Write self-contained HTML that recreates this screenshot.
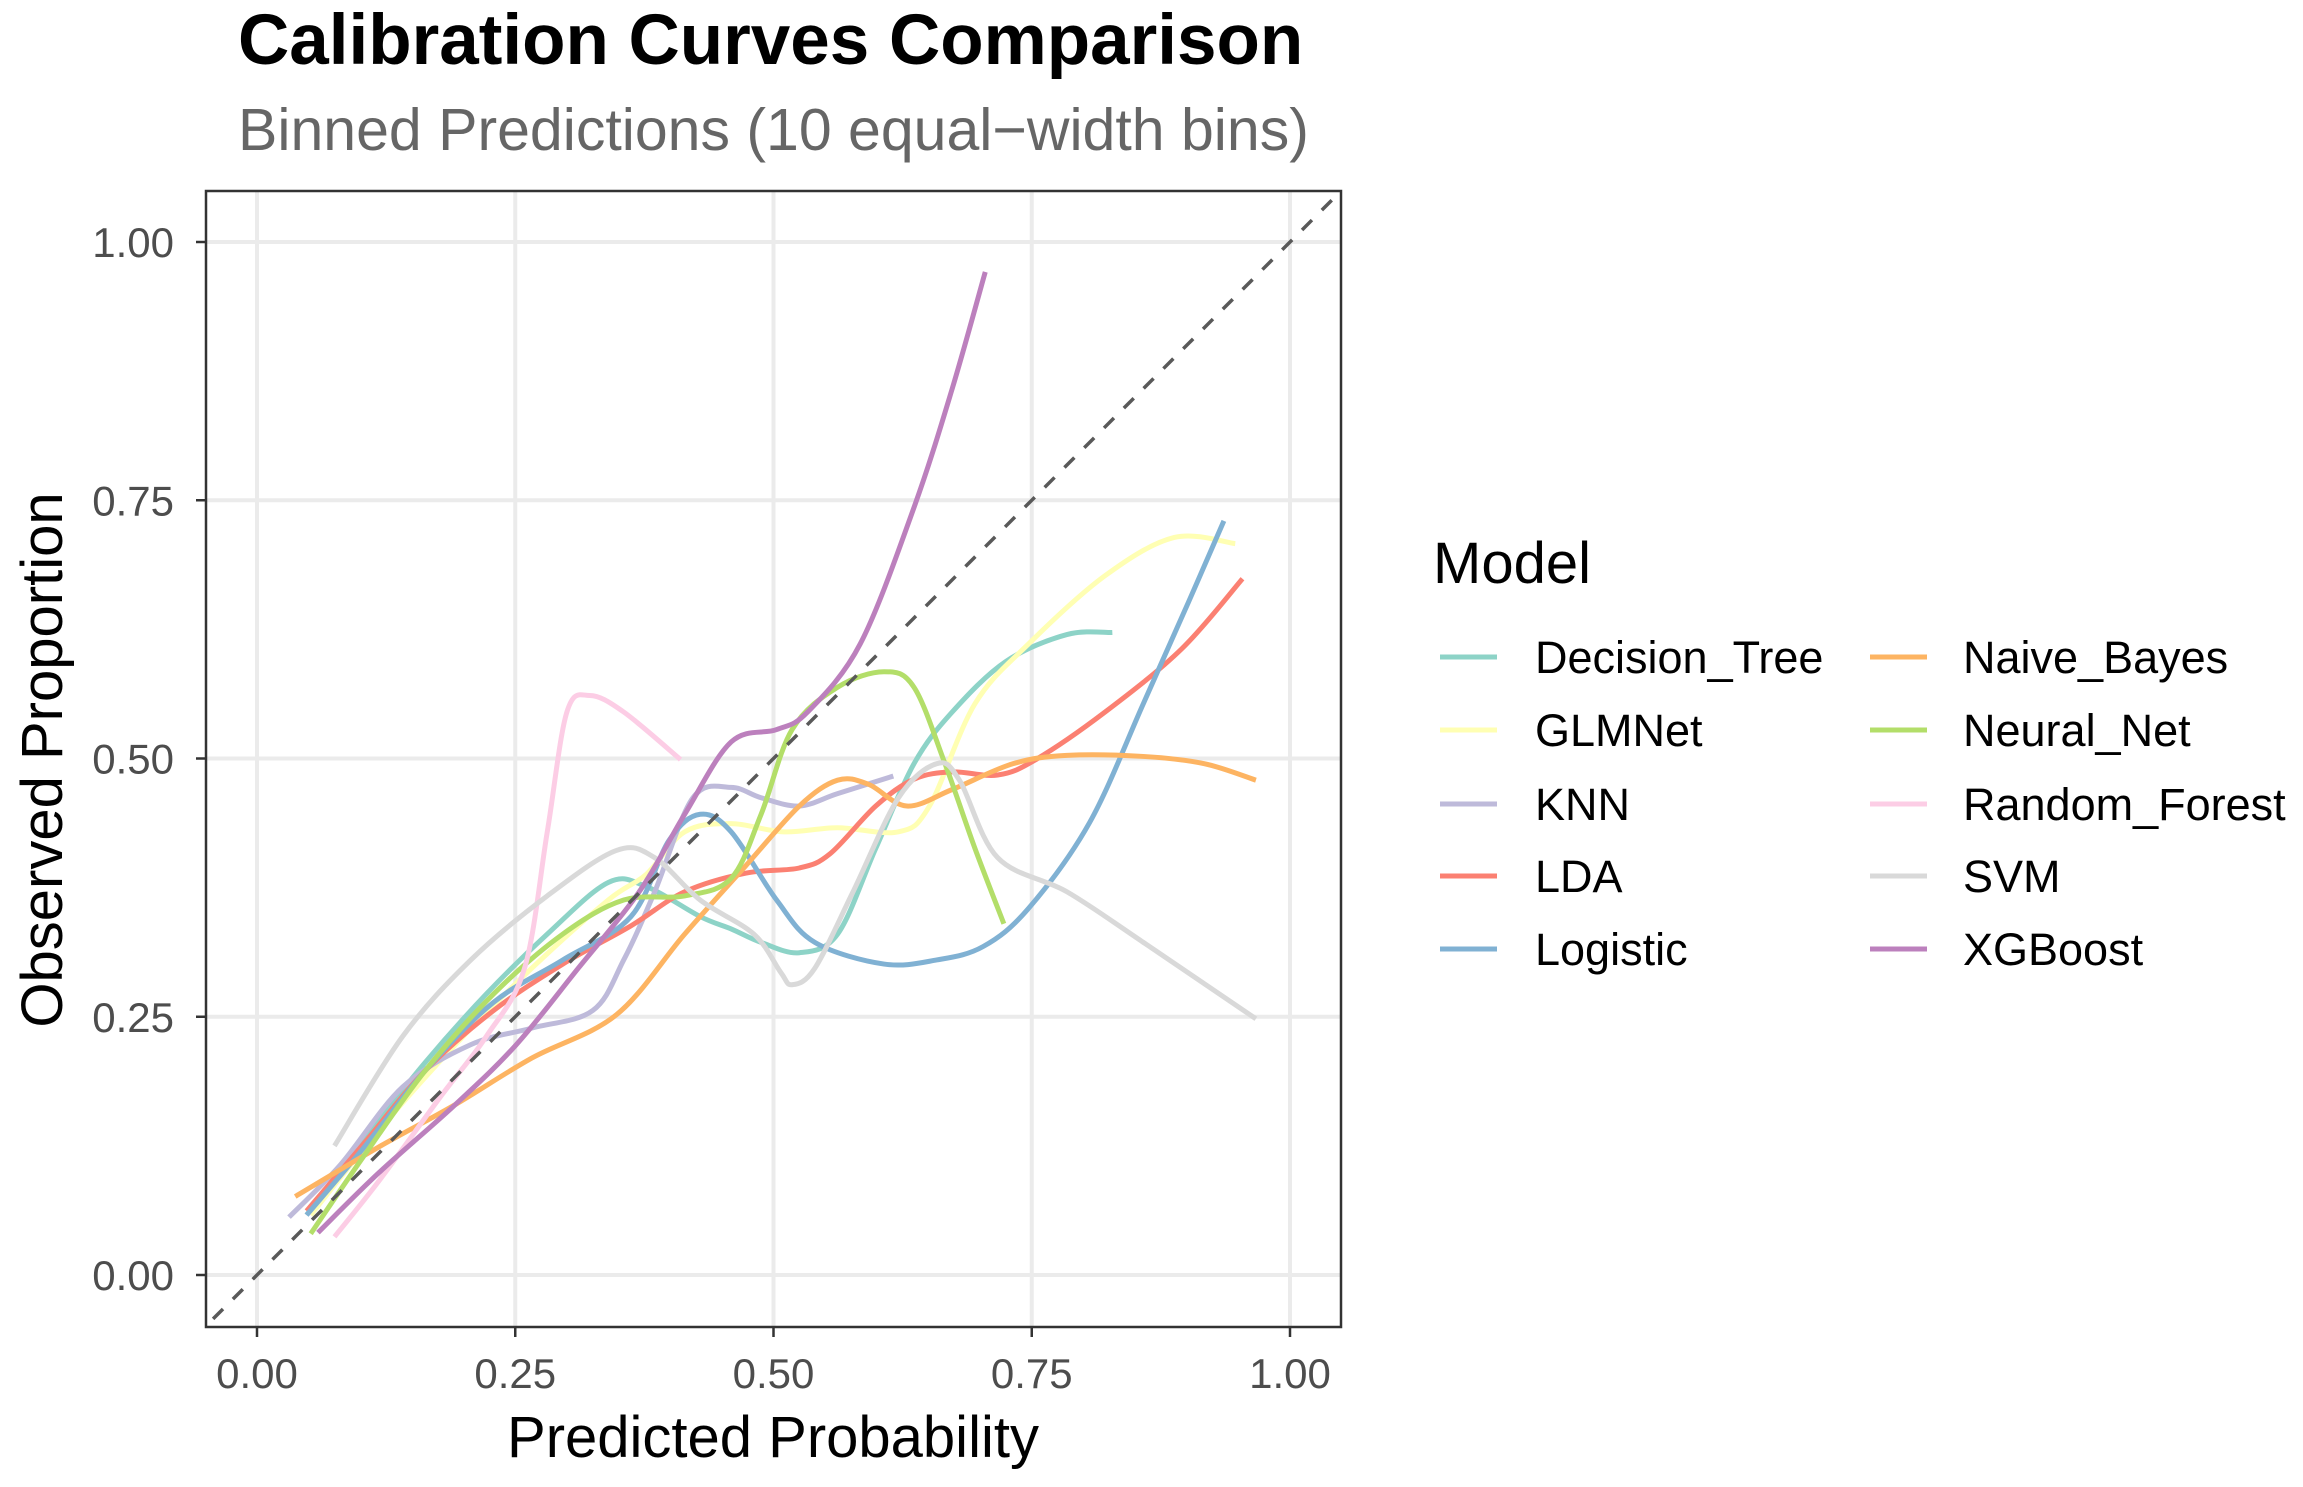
<!DOCTYPE html>
<html><head><meta charset="utf-8"><style>
html,body{margin:0;padding:0;background:#fff;}
svg{display:block;font-family:"Liberation Sans",Arial,sans-serif;}
</style></head><body>
<svg id="chart" width="2303" height="1487" viewBox="0 0 2303 1487" xmlns="http://www.w3.org/2000/svg">
<rect width="2303" height="1487" fill="#fff"/>
<text x="238" y="64" font-size="71" font-weight="bold" fill="#000">Calibration Curves Comparison</text>
<text x="238" y="150" font-size="59" fill="#666">Binned Predictions (10 equal−width bins)</text>
<g id="grid"></g>
<g id="series"></g>
<g id="axes"></g>
<text x="773" y="1457" font-size="58" text-anchor="middle" fill="#000">Predicted Probability</text>
<text transform="translate(62,760) rotate(-90)" font-size="58" text-anchor="middle" fill="#000">Observed Proportion</text>
<g id="legend">
<text x="1433" y="583" font-size="58" fill="#000">Model</text>
</g>
</svg>
<script>
const modelNames = ["Decision_Tree","GLMNet","KNN","LDA","Logistic","Naive_Bayes","Neural_Net","Random_Forest","SVM","XGBoost"];
const modelColors = ["#8DD3C7","#FFFFB3","#BEBADA","#FB8072","#80B1D3","#FDB462","#B3DE69","#FCCDE5","#D9D9D9","#BC80BD"];
const tickValues = [0,0.25,0.5,0.75,1];
const tickLabels = ["0.00","0.25","0.50","0.75","1.00"];
const dtX = [.048,.104,.163,.222,.281,.340,.377,.429,.459,.488,.525,.562,.599,.636,.673,.725,.784,.828];
const dtY = [.058,.132,.206,.272,.330,.380,.376,.347,.335,.322,.312,.330,.413,.495,.545,.594,.620,.622];
const glmX = [.052,.118,.192,.266,.340,.377,.414,.459,.510,.562,.621,.651,.695,.747,.821,.888,.947];
const glmY = [.058,.140,.223,.297,.363,.388,.429,.437,.429,.433,.429,.454,.553,.611,.677,.714,.708];
const knnX = [.031,.081,.141,.207,.266,.325,.355,.385,.422,.459,.488,.525,.562,.616];
const knnY = [.056,.107,.182,.223,.239,.256,.305,.371,.462,.472,.462,.454,.466,.483];
const ldaX = [.048,.104,.163,.229,.296,.362,.414,.473,.525,.555,.599,.636,.673,.717,.754,.821,.895,.954];
const ldaY = [.062,.128,.198,.256,.301,.338,.371,.389,.394,.408,.454,.480,.487,.484,.499,.545,.606,.674];
const logX = [.048,.104,.163,.229,.296,.362,.399,.429,.459,.503,.540,.607,.658,.703,.747,.806,.858,.902,.936];
const logY = [.058,.124,.198,.264,.305,.347,.421,.446,.429,.363,.322,.301,.305,.318,.355,.438,.553,.652,.730];
const nbX = [.037,.118,.192,.266,.348,.414,.473,.525,.562,.592,.629,.673,.732,.784,.858,.917,.967];
const nbY = [.076,.124,.165,.210,.252,.330,.396,.454,.479,.475,.454,.470,.495,.503,.502,.495,.479];
const nnX = [.052,.104,.163,.229,.296,.355,.414,.459,.488,.518,.562,.607,.636,.666,.695,.723];
const nnY = [.040,.116,.198,.272,.330,.363,.367,.384,.446,.528,.569,.584,.569,.495,.413,.340];
const rfX = [.075,.118,.178,.222,.259,.281,.300,.322,.355,.410];
const rfY = [.037,.091,.173,.231,.297,.429,.545,.561,.545,.499];
const svmX = [.075,.141,.207,.281,.348,.385,.429,.481,.507,.518,.540,.577,.621,.658,.680,.717,.784,.858,.967];
const svmY = [.125,.231,.305,.367,.411,.404,.363,.330,.293,.281,.297,.371,.462,.495,.479,.404,.371,.322,.248];
const xgbX = [.059,.118,.192,.251,.311,.370,.414,.459,.503,.533,.584,.636,.673,.705];
const xgbY = [.041,.099,.165,.223,.297,.371,.446,.516,.528,.545,.611,.743,.858,.971];
const seriesX = [dtX,glmX,knnX,ldaX,logX,nbX,nnX,rfX,svmX,xgbX];
const seriesY = [dtY,glmY,knnY,ldaY,logY,nbY,nnY,rfY,svmY,xgbY];
const drawOrder = [0,1,2,3,4,5,6,7,8,9];

const NS="http://www.w3.org/2000/svg";
const P={l:206,r:1341,t:191,b:1327};
const xs=v=>257+v*1033;
const ys=v=>1275-v*1033;
function mk(tag,attrs,parent){const e=document.createElementNS(NS,tag);for(const k in attrs)e.setAttribute(k,attrs[k]);parent.appendChild(e);return e;}
const grid=document.getElementById('grid'),axes=document.getElementById('axes'),ser=document.getElementById('series'),leg=document.getElementById('legend');
mk('rect',{x:P.l,y:P.t,width:P.r-P.l,height:P.b-P.t,fill:'#fff'},grid);
tickValues.forEach((v,i)=>{
  const gx=mk('line',{x1:xs(v),x2:xs(v),y1:P.t,y2:P.b,stroke:'#ebebeb','stroke-width':4},grid);
  
  
  const gy=mk('line',{x1:P.l,x2:P.r,y1:ys(v),y2:ys(v),stroke:'#ebebeb','stroke-width':4},grid);
  
  
  mk('line',{x1:xs(v),x2:xs(v),y1:P.b,y2:P.b+10,stroke:'#333','stroke-width':2.5},axes);
  mk('line',{x1:P.l-10,x2:P.l,y1:ys(v),y2:ys(v),stroke:'#333','stroke-width':2.5},axes);
  const tx=mk('text',{x:xs(v),y:1388,'font-size':42,'text-anchor':'middle',fill:'#4d4d4d'},axes);
  tx.textContent=tickLabels[i];
  
  
  const ty=mk('text',{x:174,y:ys(v)+15,'font-size':42,'text-anchor':'end',fill:'#4d4d4d'},axes);
  ty.textContent=tickLabels[i];
  
  
});
function smooth(pts){
  let d='M'+pts[0][0]+','+pts[0][1];
  for(let i=0;i<pts.length-1;i++){
    const p0=pts[i-1]||pts[i],p1=pts[i],p2=pts[i+1],p3=pts[i+2]||p2;
    const c1=[p1[0]+(p2[0]-p0[0])/6,p1[1]+(p2[1]-p0[1])/6];
    const c2=[p2[0]-(p3[0]-p1[0])/6,p2[1]-(p3[1]-p1[1])/6];
    d+=' C'+c1[0]+','+c1[1]+' '+c2[0]+','+c2[1]+' '+p2[0]+','+p2[1];
  }
  return d;
}
const clip=mk('clipPath',{id:'pc'},mk('defs',{},ser));
mk('rect',{x:P.l,y:P.t,width:P.r-P.l,height:P.b-P.t},clip);
drawOrder.forEach(k=>{
  const pts=seriesX[k].map((x,i)=>[xs(x),ys(seriesY[k][i])]);
  const p=mk('path',{d:smooth(pts),fill:'none',stroke:modelColors[k],'stroke-width':5,'stroke-linecap':'butt'},ser);
  
  
});
const diag=mk('line',{x1:xs(-0.1),y1:ys(-0.1),x2:xs(1.1),y2:ys(1.1),stroke:'#595959','stroke-width':3.5,'stroke-dasharray':'14,14','clip-path':'url(#pc)'},ser);


mk('rect',{x:P.l,y:P.t,width:P.r-P.l,height:P.b-P.t,fill:'none',stroke:'#333','stroke-width':2.5},axes);
const rowsY=[657,730,804,876,949];
modelNames.forEach((n,k)=>{
  const col=Math.floor(k/5),row=k%5;
  const kx=col?1870:1440,tx=col?1963:1535,y=rowsY[row];
  const g=mk('g',{},leg);
  
  
  mk('line',{x1:kx,x2:kx+57,y1:y,y2:y,stroke:modelColors[k],'stroke-width':5},g);
  const t=mk('text',{x:tx,y:y+16,'font-size':45,fill:'#000'},g);
  t.textContent=n;
});
</script>
</body></html>
